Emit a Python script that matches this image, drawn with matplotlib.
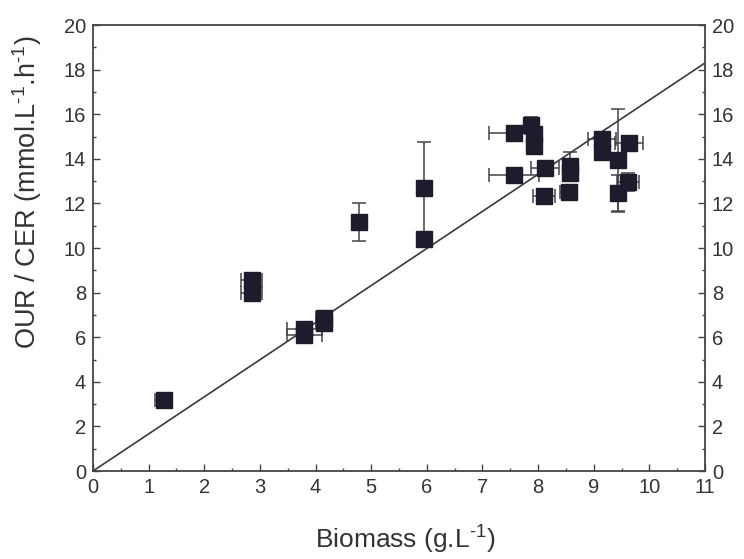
import matplotlib
matplotlib.use("Agg")
import matplotlib.pyplot as plt
from matplotlib.ticker import MultipleLocator

plt.rcParams['font.family'] = ['Liberation Sans', 'DejaVu Sans']
plt.rcParams['mathtext.fontset'] = 'custom'
plt.rcParams['mathtext.rm'] = 'Liberation Sans'
plt.rcParams['mathtext.it'] = 'Liberation Sans'
plt.rcParams['mathtext.default'] = 'regular'

# Biomass (g/L) and uptake/evolution rates (mmol/L/h) with error estimates
biomass = [1.27, 2.85, 2.85, 3.80, 3.80, 4.15, 4.15, 4.78, 5.95, 5.95,
           7.57, 7.88, 7.93, 7.93, 7.57, 8.13, 8.10, 8.58, 8.58, 8.55,
           9.15, 9.15, 9.63, 9.44, 9.62, 9.43]
rate = [3.20, 8.55, 8.00, 6.35, 6.10, 6.85, 6.65, 11.15, 12.70, 10.40,
        15.15, 15.50, 15.10, 14.60, 13.30, 13.60, 12.35, 13.70, 13.35, 12.50,
        14.90, 14.30, 14.70, 13.95, 12.95, 12.45]
biomass_err = [0.15, 0.19, 0.19, 0.32, 0.32, 0.15, 0.15, 0.10, 0.08, 0.08,
               0.45, 0.10, 0.08, 0.08, 0.45, 0.25, 0.20, 0.12, 0.12, 0.15,
               0.25, 0.10, 0.25, 0.10, 0.20, 0.10]
rate_err = [0.15, 0.20, 0.25, 0.20, 0.20, 0.15, 0.20, 0.85, 2.05, 0.30,
            0.15, 0.40, 0.30, 0.30, 0.15, 0.20, 0.15, 0.60, 0.30, 0.20,
            0.15, 0.20, 0.15, 2.30, 0.40, 0.85]

# Proportional fit through the origin
fit_slope = 1.664
fit_x = [0.0, 11.0]

fig = plt.figure(figsize=(7.44, 5.59), dpi=100)
ax = fig.add_axes([0.125, 0.1574, 0.8226, 0.7976])

text_col = '#333333'
ax.plot(fit_x, [fit_slope * v for v in fit_x], color='#3a3a3a', lw=1.2, zorder=2)

ax.errorbar(biomass, rate, xerr=biomass_err, yerr=rate_err, fmt='s',
            ms=11, mfc='#1c1c2c', mec='#1c1c2c', ecolor='#444444',
            elinewidth=1.1, capsize=5, capthick=1.1, zorder=3)

ax.set_xlim(0, 11)
ax.set_ylim(0, 20)
ax.xaxis.set_major_locator(MultipleLocator(1))
ax.xaxis.set_minor_locator(MultipleLocator(0.5))
ax.yaxis.set_major_locator(MultipleLocator(2))
ax.yaxis.set_minor_locator(MultipleLocator(1))

ax.tick_params(which='both', direction='in', top=False, right=True,
               labelright=True, colors='#444444', labelcolor=text_col,
               labelsize=14.5)
ax.tick_params(which='major', length=5, width=1)
ax.tick_params(which='minor', length=2.5, width=1)
ax.tick_params(axis='x', pad=5)
ax.tick_params(axis='y', pad=5)
for s in ax.spines.values():
    s.set_color('#444444')
    s.set_linewidth(1.3)

ax.set_xlabel(r'Biomass (g.L$^{\text{-1}}$)', fontsize=19, color=text_col)
ax.set_ylabel(r'OUR / CER (mmol.L$^{\text{-1}}$.h$^{\text{-1}}$)', fontsize=19.5,
              color=text_col)
ax.xaxis.set_label_coords(0.51, -0.118)
ax.yaxis.set_label_coords(-0.08, 0.626)

fig.savefig('out.png', dpi=100)
